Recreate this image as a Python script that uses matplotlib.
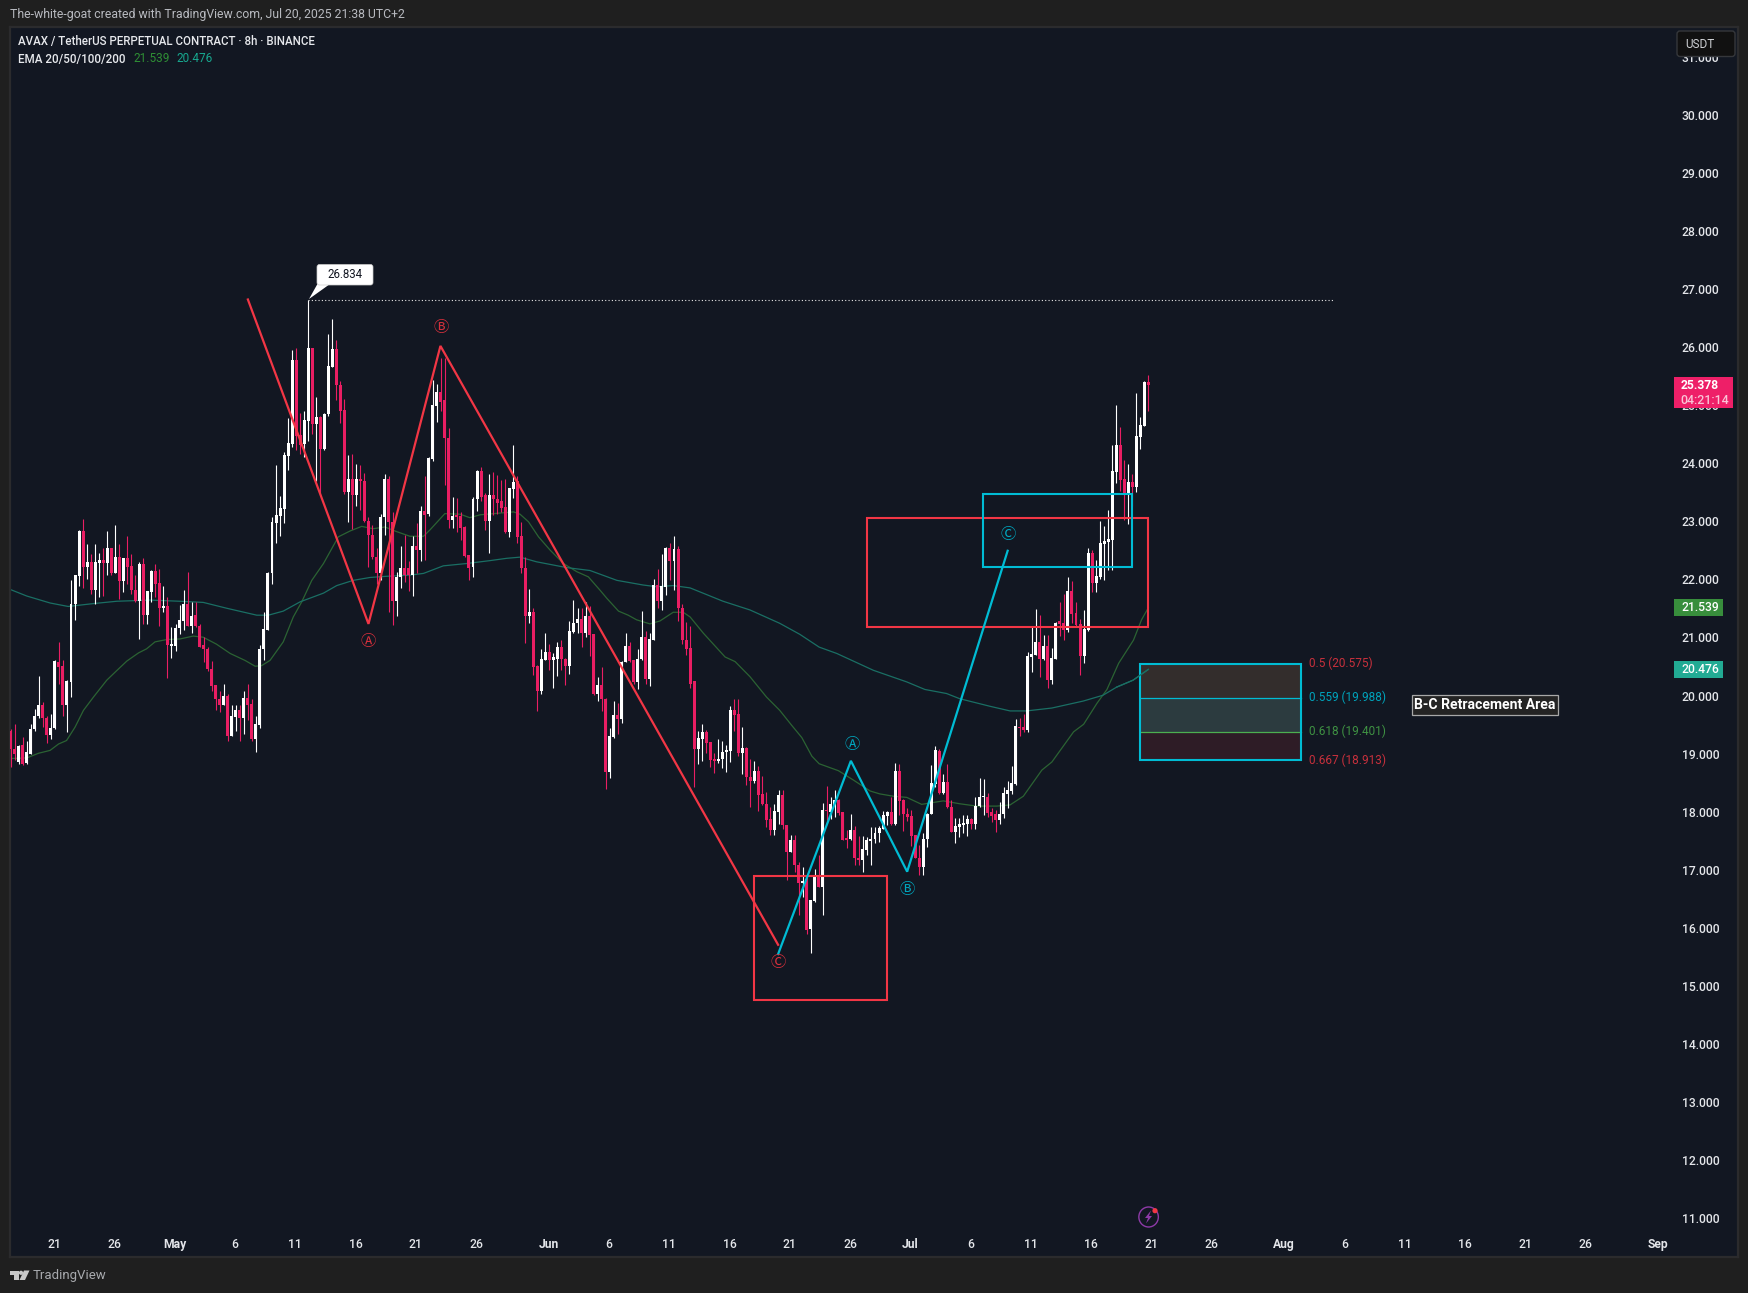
import matplotlib
matplotlib.use("Agg")
import matplotlib.pyplot as plt
from matplotlib.patches import Rectangle, FancyBboxPatch, Polygon, Ellipse, Circle
from matplotlib.transforms import Affine2D

FONT = ['Roboto', 'DejaVu Sans']
plt.rcParams['font.family'] = FONT
CIRC = ['Noto Sans CJK SC', 'DejaVu Sans']

highs = [19.45,19.54,19.17,19.31,19.25,19.53,19.80,20.36,19.91,19.68,
 19.71,20.63,20.94,20.63,20.29,22.01,22.10,22.88,23.06,22.63,
 22.46,22.63,22.49,22.56,22.86,22.56,22.97,22.64,22.40,22.77,
 22.46,22.10,22.33,22.40,21.83,22.18,22.29,22.21,21.92,21.72,
 21.21,21.26,21.58,21.85,22.15,21.64,21.64,21.25,21.03,20.86,
 20.62,20.20,20.11,20.22,20.05,19.86,19.86,19.86,20.11,20.23,
 19.97,19.68,20.89,21.46,22.15,23.11,23.99,23.46,24.22,24.80,
 25.98,26.02,24.90,24.93,26.834,26.02,25.17,24.84,24.90,26.25,
 26.52,26.15,25.45,25.13,24.17,24.18,24.02,23.99,23.86,23.11,
 22.96,22.56,23.16,23.85,23.81,23.19,22.16,22.60,22.80,22.34,
 22.77,22.99,23.29,23.81,24.13,25.46,25.39,25.84,25.84,24.63,
 23.44,23.43,23.18,22.95,22.45,23.45,23.92,23.97,23.52,23.85,
 23.88,23.82,23.74,23.76,23.61,24.34,23.81,23.02,22.42,21.86,
 21.54,20.55,20.82,21.11,20.92,20.75,20.95,20.98,20.68,21.31,
 21.68,21.54,21.54,21.64,21.57,21.08,20.35,20.52,19.99,19.47,
 19.93,19.90,20.62,21.11,20.95,20.64,20.82,21.48,21.14,21.11,
 22.03,22.20,22.46,22.59,22.65,22.77,22.60,21.61,21.29,21.23,
 20.28,19.41,19.53,19.43,19.22,19.03,19.27,19.24,19.17,19.84,
 19.97,19.97,19.49,19.13,18.94,18.89,18.81,18.64,18.37,18.11,
 18.16,18.39,18.40,17.79,17.62,17.62,17.16,17.07,16.93,16.51,
 17.04,17.27,18.18,18.46,18.28,18.40,18.25,18.02,17.70,17.99,
 17.77,17.60,17.60,17.59,17.76,17.76,17.77,18.04,18.04,18.28,
 18.87,18.85,18.25,18.08,18.05,17.62,17.45,17.65,18.00,18.83,
 19.16,19.10,18.68,18.85,18.22,17.91,17.92,17.96,17.97,17.91,
 18.28,18.60,18.58,18.34,18.08,18.05,18.19,18.45,18.55,18.81,
 19.62,19.63,19.70,20.78,21.21,21.51,21.41,21.07,21.07,20.84,
 21.30,21.64,21.77,22.06,22.00,21.63,21.34,21.50,22.56,22.53,
 22.36,23.03,22.95,23.23,24.34,25.03,24.66,24.08,24.01,23.85,
 25.24,24.83,25.45,25.55]
lows = [18.79,18.91,18.85,18.82,18.85,19.01,19.42,19.63,19.49,19.21,
 19.28,19.45,20.23,19.68,19.40,20.00,21.32,21.92,21.87,22.04,
 21.77,21.61,21.72,21.74,22.10,22.10,22.13,21.69,21.81,21.95,
 21.78,21.64,21.00,21.26,21.25,21.64,21.72,21.23,21.46,20.33,
 20.68,20.79,21.09,21.15,21.23,21.10,21.21,20.86,20.60,20.45,
 20.11,19.77,19.74,19.86,19.25,19.32,19.42,19.24,19.37,19.60,
 19.24,19.05,19.47,20.63,21.15,21.95,22.65,22.77,22.99,23.91,
 24.31,24.26,24.19,24.14,24.42,24.54,23.73,23.48,24.25,24.84,
 25.69,25.11,24.72,23.50,23.02,22.90,23.30,23.22,23.02,22.24,
 22.38,21.95,22.01,22.79,21.47,21.24,21.39,21.88,21.99,21.83,
 21.74,22.13,22.35,22.36,23.12,24.07,24.74,24.92,23.65,22.91,
 22.91,22.85,22.70,22.42,22.01,22.07,23.21,23.37,22.87,22.49,
 23.14,23.16,23.19,22.83,22.76,23.43,22.66,22.14,20.93,21.27,
 20.38,19.76,20.05,20.64,20.47,20.16,20.36,20.46,20.20,20.39,
 21.11,21.11,20.87,21.04,20.70,20.03,19.93,19.76,18.42,18.61,
 19.29,19.37,19.55,20.61,20.61,20.23,20.13,20.64,20.22,20.19,
 20.98,21.53,21.50,21.76,22.01,21.84,21.31,20.92,20.72,20.15,
 18.45,18.84,18.89,19.03,18.79,18.69,18.86,18.77,18.71,18.88,
 19.42,18.98,18.67,18.48,18.11,18.52,18.04,18.14,17.76,17.63,
 17.62,17.81,17.73,16.84,17.33,16.99,16.24,16.55,15.92,15.59,
 16.47,16.72,16.24,17.88,17.89,17.93,17.97,17.53,17.39,17.54,
 17.10,17.10,16.99,17.27,17.10,17.48,17.50,17.73,17.79,17.79,
 17.79,17.96,17.69,17.87,17.43,17.22,16.94,16.93,17.42,17.99,
 18.45,18.33,18.33,18.08,17.67,17.49,17.59,17.65,17.60,17.73,
 17.73,18.11,17.96,17.94,17.85,17.67,17.82,17.91,18.08,18.32,
 18.48,19.33,19.40,19.40,20.43,20.72,20.34,20.64,20.16,20.22,
 20.65,21.05,20.99,21.12,21.27,21.21,20.38,20.59,21.14,21.81,
 21.81,22.03,22.02,22.19,22.18,23.68,23.55,23.05,22.98,23.29,
 23.54,24.28,24.67,24.93]
opens = [19.42,19.10,18.88,19.17,18.86,19.02,19.44,19.67,19.87,19.63,
 19.34,19.46,20.61,20.53,19.87,20.26,21.60,22.08,22.86,22.24,
 22.32,21.85,22.31,22.36,22.31,22.56,22.14,22.42,22.00,22.39,
 22.25,21.85,21.65,22.29,21.41,21.81,22.17,21.97,21.53,21.56,
 20.88,20.88,21.19,21.31,21.61,21.23,21.41,21.23,20.89,20.83,
 20.49,20.20,19.97,19.86,20.01,19.32,19.65,19.77,19.63,19.99,
 19.88,19.27,19.51,20.83,21.15,22.14,22.99,23.12,23.24,24.15,
 24.36,25.80,24.51,24.36,24.76,26.02,24.70,24.83,24.27,24.87,
 25.69,26.00,25.38,24.94,23.53,23.76,23.48,23.76,23.73,23.03,
 22.80,22.42,22.14,23.10,23.75,23.02,21.66,22.06,22.23,22.22,
 22.10,22.60,22.53,23.20,23.15,24.10,25.01,25.26,25.11,24.46,
 23.05,23.12,23.12,22.93,22.45,22.24,23.42,23.90,23.48,23.04,
 23.48,23.42,23.37,23.27,22.85,23.58,23.72,22.77,22.23,21.39,
 21.46,20.53,20.10,20.64,20.77,20.64,20.66,20.87,20.66,20.54,
 21.12,21.27,21.34,21.10,21.39,21.08,20.06,20.20,19.96,18.71,
 19.31,19.69,19.62,20.61,20.88,20.64,20.25,20.65,21.03,20.31,
 20.99,21.93,21.65,21.90,22.56,22.34,22.55,21.54,20.99,20.84,
 20.27,19.10,19.27,19.39,19.22,18.94,18.89,18.93,19.05,19.07,
 19.77,19.70,19.03,19.12,18.63,18.55,18.72,18.33,18.15,17.89,
 17.70,18.02,18.31,17.79,17.33,17.53,17.11,16.80,16.83,16.00,
 16.48,16.90,16.73,18.05,18.02,18.14,18.22,18.01,17.56,17.55,
 17.70,17.23,17.19,17.37,17.52,17.55,17.65,17.73,17.95,18.01,
 17.81,18.72,18.22,17.99,17.95,17.62,17.23,17.07,17.55,17.99,
 18.50,19.07,18.34,18.53,18.10,17.67,17.76,17.80,17.81,17.89,
 17.81,18.12,18.27,18.27,18.01,17.99,17.88,17.98,18.33,18.38,
 18.50,19.49,19.49,19.43,20.69,20.72,20.94,20.65,20.88,20.29,
 20.65,21.31,21.27,21.15,21.82,21.44,21.26,20.71,21.15,22.49,
 21.97,22.07,22.63,22.67,22.70,23.88,24.34,23.76,23.50,23.70,
 23.62,24.48,24.67,25.42]
closes = [19.10,19.01,19.15,18.85,19.05,19.45,19.68,19.87,19.63,19.34,
 19.47,20.62,20.52,19.87,20.27,21.61,22.10,22.86,22.24,22.32,
 21.85,22.32,22.36,22.31,22.56,22.14,22.42,22.00,22.39,22.24,
 21.85,21.65,22.29,21.41,21.83,22.17,21.95,21.53,21.56,20.89,
 20.89,21.19,21.32,21.61,21.23,21.39,21.22,20.87,20.82,20.48,
 20.19,19.97,19.86,20.01,19.32,19.67,19.77,19.63,19.99,19.87,
 19.27,19.53,20.83,21.18,22.14,23.01,23.13,23.26,24.17,24.37,
 25.80,24.49,24.35,24.77,26.02,24.70,24.83,24.27,24.88,25.70,
 26.00,25.37,24.92,23.53,23.76,23.48,23.76,23.72,23.03,22.80,
 22.42,22.14,23.11,23.75,23.02,21.66,22.07,22.23,22.10,22.10,
 22.60,22.53,23.20,23.14,24.12,25.03,25.26,25.09,24.46,23.05,
 23.12,23.11,22.91,22.43,22.23,23.42,23.90,23.44,23.04,23.48,
 23.41,23.34,23.26,22.84,23.60,23.70,22.76,22.23,21.40,21.46,
 20.52,20.10,20.65,20.77,20.64,20.69,20.87,20.66,20.54,21.13,
 21.28,21.35,21.10,21.39,21.07,20.05,20.20,19.96,18.71,19.33,
 19.69,19.62,20.61,20.88,20.62,20.25,20.66,21.03,20.31,21.00,
 21.93,21.66,21.91,22.57,22.34,22.55,21.54,20.98,20.83,20.23,
 19.10,19.29,19.39,19.20,18.92,18.89,18.94,19.06,19.08,19.77,
 19.69,19.03,19.12,18.62,18.55,18.72,18.31,18.15,17.88,17.70,
 18.03,18.31,17.80,17.33,17.53,17.10,16.80,16.83,15.99,16.50,
 16.90,16.72,18.05,18.03,18.15,18.22,18.00,17.54,17.54,17.70,
 17.23,17.19,17.38,17.53,17.56,17.65,17.74,17.96,18.01,17.81,
 18.72,18.21,17.98,17.93,17.60,17.23,17.07,17.56,17.99,18.52,
 19.08,18.34,18.53,18.10,17.67,17.77,17.81,17.82,17.89,17.81,
 18.13,18.28,18.28,18.00,17.95,17.88,17.99,18.34,18.39,18.51,
 19.50,19.46,19.43,20.70,20.74,20.94,20.65,20.88,20.29,20.67,
 21.28,21.26,21.15,21.82,21.43,21.24,20.71,21.17,22.49,21.97,
 22.08,22.65,22.69,22.72,23.89,24.34,23.74,23.51,23.70,23.62,
 24.50,24.69,25.42,25.378]

ema100_idx = [0,4,6.9,9.8,11.9,13.9,16,18.1,20.6,23.9,26,28.9,31.8,33.8,35.9,38.8,42.1,45.4,47.9,51.2,
 54.6,58.3,60.8,62.4,64.5,67.8,70.3,72.4,74.9,77.8,81.5,84.4,87.3,90.2,93.1,96,99.3,102.7,104.3,108,
 111.8,114.2,116.8,125.1,126.7,128.8,131.3,134.2,137.5,140.8,143.7,146.6,148.3,151.2,153.6,155.7,159,161.5,164.8,167.3,
 169,172.3,177.7,180.2,183.9,188,191.3,194.3,196.8,199.3,201.1,205.9,209.6,213.8,216.2,219.6,222.9,226.6,232,236.1,
 240.3,245.3,248.6,251.9,256.5,259,264.4,266.9,270.2,272.7,275.6,279.3,281.3,283]
ema100_val = [18.94,18.95,19.03,19.08,19.19,19.25,19.48,19.77,20.00,20.29,20.43,20.62,20.76,20.83,20.95,20.99,21.00,21.05,21.03,20.91,
 20.75,20.63,20.53,20.54,20.63,20.95,21.38,21.64,22.01,22.30,22.76,22.86,22.94,22.90,22.93,22.85,22.77,22.77,22.88,23.16,
 23.15,23.09,23.14,23.19,23.15,23.02,22.76,22.53,22.30,22.16,22.07,21.84,21.70,21.48,21.41,21.33,21.26,21.31,21.46,21.46,
 21.38,21.10,20.69,20.61,20.35,20.00,19.77,19.51,19.30,18.98,18.85,18.73,18.57,18.38,18.33,18.29,18.27,18.15,18.21,18.16,
 18.12,18.12,18.14,18.29,18.74,18.88,19.40,19.53,19.89,20.13,20.58,20.98,21.33,21.539]
ema200_idx = [0,4,9.8,14.3,20.6,26.4,34.7,42.1,47.9,53.7,61.2,64.1,67.8,72,77.8,81.1,85.2,89.4,93.5,99.3,
 102.7,107.6,113.4,119.2,123.4,126.7,130.8,138.3,144.1,150.8,157.3,160.7,164.8,169,177.2,183.9,191.3,196.3,201.1,205.5,
 214.6,222.9,227.4,232.8,236.1,243.6,248.6,252.7,259,266.8,271.7,275.1,279.2,283]
ema200_val = [21.85,21.74,21.62,21.56,21.61,21.65,21.67,21.65,21.63,21.53,21.41,21.41,21.48,21.64,21.79,21.92,22.01,22.06,22.08,22.10,
 22.13,22.26,22.30,22.35,22.39,22.41,22.33,22.23,22.18,22.01,21.93,21.90,21.92,21.88,21.65,21.50,21.27,21.08,20.86,20.75,
 20.46,20.26,20.13,20.06,19.97,19.84,19.76,19.76,19.81,19.93,20.03,20.17,20.29,20.476]

red_wave_idx = [59,89,106.9,190.9]
red_wave_val = [26.85,21.26,26.05,15.73]
blue_wave_idx = [190.9,209,223,248]
blue_wave_val = [15.57,18.90,16.99,22.52]
red_wave_labels = ['Ⓐ','Ⓑ','Ⓒ']
red_label_idx = [89,107,191]
red_label_val = [20.96,26.36,15.43]
blue_wave_labels = ['Ⓐ','Ⓑ','Ⓒ']
blue_label_idx = [209.2,223,248.2]
blue_label_val = [19.18,16.69,22.80]

fib_levels = [20.575,19.988,19.401,18.913]
fib_names = ['0.5 (20.575)','0.559 (19.988)','0.618 (19.401)','0.667 (18.913)']

price_ticks = list(range(11,32))
date_labels = ['21','26','May','6','11','16','21','26','Jun','6','11','16','21','26','Jul','6','11','16','21','26','Aug','6','11','16','21','26','Sep']
date_days = [0,5,10,15,20,25,30,35,41,46,51,56,61,66,71,76,81,86,91,96,102,107,112,117,122,127,133]

W, H = 1749, 1293
BG, PANEL, BORDER = '#1f1f1f', '#121722', '#2b2b2d'
PINK, RED, CYAN = '#e91e63', '#f23645', '#00bcd4'
AXTXT = '#e4e6ea'

px = Affine2D().scale(1, -1).translate(0, H)
fig = plt.figure(figsize=(W/100, H/100), dpi=100, facecolor=BG)
L, R, T_, B = 10, 1738, 27, 1257
ax = fig.add_axes([L/W, 1-B/H, (R-L)/W, (B-T_)/H], facecolor=PANEL)
PX_PER_BAR, X0 = 4.02, 10.7
PX_PER_UNIT, Y30 = 58.03, 116.7
ax.set_xlim((L-X0)/PX_PER_BAR, (R-X0)/PX_PER_BAR)
ax.set_ylim(30-(B-Y30)/PX_PER_UNIT, 30+(Y30-T_)/PX_PER_UNIT)
for s in ax.spines.values():
    s.set_color(BORDER); s.set_linewidth(1.6)

ax.yaxis.tick_right()
ax.set_yticks(price_ticks)
ax.set_yticklabels([f'{v}.000' for v in price_ticks], va='center', fontweight='medium')
ax.tick_params(axis='y', length=0, pad=-40.6, labelsize=8.7, labelcolor=AXTXT)
ax.set_xticks([10.8+3*d for d in date_days])
ax.set_xticklabels(date_labels, fontweight='medium')
ax.tick_params(axis='x', length=0, pad=-13.5, labelsize=8.7, labelcolor=AXTXT)
for lab, txt in zip(ax.get_xticklabels(), date_labels):
    if not txt.isdigit():
        lab.set_fontweight('bold')

# EMAs
ax.plot(ema100_idx, ema100_val, color='#2b6333', lw=0.9, zorder=2)
ax.plot(ema200_idx, ema200_val, color='#1a6f64', lw=0.9, zorder=2)

# candles
for i, (o, h, l, c) in enumerate(zip(opens, highs, lows, closes)):
    col = '#ffffff' if c >= o else PINK
    ax.vlines(i, l, h, color=col, lw=0.8, zorder=3)
    ax.add_patch(Rectangle((i-0.37, min(o, c)), 0.74, max(abs(c-o), 0.03), fc=col, ec='none', zorder=3, antialiased=False))

# boxes
def box(i0, i1, p0, p1, col):
    ax.add_patch(Rectangle((i0, p0), i1-i0, p1-p0, fc='none', ec=col, lw=1.5, zorder=4))
box(184.9, 218, 14.77, 16.92, RED)
box(213, 283, 21.21, 23.08, RED)
box(241.8, 279, 22.24, 23.50, CYAN)

# waves
ax.plot(red_wave_idx, red_wave_val, color=RED, lw=1.6, zorder=5, solid_joinstyle='miter')
ax.plot(blue_wave_idx, blue_wave_val, color=CYAN, lw=1.6, zorder=5, solid_joinstyle='miter')
for s, x, y in zip(red_wave_labels, red_label_idx, red_label_val):
    ax.text(x, y, s, color='#d8303c', ha='center', va='center', fontsize=11, family=CIRC, zorder=6)
for s, x, y in zip(blue_wave_labels, blue_label_idx, blue_label_val):
    ax.text(x, y, s, color='#00a8c0', ha='center', va='center', fontsize=11, family=CIRC, zorder=6)

# high marker
ax.plot([74, 328.9], [26.834, 26.834], color='#e8e8e8', lw=0.8, ls=(0, (1, 2)), zorder=3)
fig.add_artist(Polygon([(318, 283), (309, 299), (330, 284)], transform=px, fc='white', ec='none', zorder=6))
fig.add_artist(FancyBboxPatch((319, 266.5), 52, 16.5, boxstyle='round,pad=2,rounding_size=2.5', transform=px, fc='white', ec='#cccccc', lw=0.5, zorder=6))
fig.add_artist(plt.Text(345, 274.5, '26.834', transform=px, color='#131722', fontsize=8.3, ha='center', va='center', zorder=7))

# fib block
fills = ['#332d2c', '#2c3b3f', '#2e1c26']
for k in range(3):
    ax.add_patch(Rectangle((281, fib_levels[k+1]), 40, fib_levels[k]-fib_levels[k+1], fc=fills[k], ec='none', zorder=1.5))
ax.plot([281, 321], [fib_levels[2]]*2, color='#4caf50', lw=0.9, zorder=3)
ax.plot([281, 321], [fib_levels[1]]*2, color=CYAN, lw=0.9, zorder=3)
ax.add_patch(Rectangle((281, fib_levels[3]), 40, fib_levels[0]-fib_levels[3], fc='none', ec=CYAN, lw=1.5, zorder=3))
ax.plot(ema200_idx[-3:], ema200_val[-3:], color='#1a6f64', lw=0.9, zorder=3.5)
lab_cols = ['#c8303c', '#00a3bb', '#3f9243', '#c8303c']
for y, name, col in zip(fib_levels, fib_names, lab_cols):
    ax.text(323, y, name, color=col, fontsize=8.5, ha='left', va='center', zorder=6)
fig.add_artist(plt.Text(1485, 705, 'B-C Retracement Area', transform=px, color='white', fontsize=10.1, fontweight='bold',
    ha='center', va='center', zorder=7, bbox=dict(boxstyle='square,pad=0.2', fc='#242424', ec='#a8a8a8', lw=0.9)))

# price tags
def tag(price, x1, h, col):
    ax.add_patch(Rectangle(((1674-X0)/PX_PER_BAR, price-h/2/PX_PER_UNIT), (x1-1674)/PX_PER_BAR, h/PX_PER_UNIT, fc=col, ec='none', zorder=7))
tag(21.539, 1723, 17, '#388e3c')
tag(20.476, 1723, 17, '#22ab94')
ax.add_patch(Rectangle(((1674-X0)/PX_PER_BAR, 30-(407.7-Y30)/PX_PER_UNIT), 59/PX_PER_BAR, 31/PX_PER_UNIT, fc='#ee1f68', ec='none', zorder=7))
ax.text((1700-X0)/PX_PER_BAR, 21.539, '21.539', color='white', fontsize=8.7, fontweight='medium', ha='center', va='center', zorder=8)
ax.text((1700-X0)/PX_PER_BAR, 20.476, '20.476', color='white', fontsize=8.7, fontweight='medium', ha='center', va='center', zorder=8)
fig.add_artist(plt.Text(1700, 385.5, '25.378', transform=px, color='white', fontsize=8.7, fontweight='bold', ha='center', va='center', zorder=8))
fig.add_artist(plt.Text(1705, 400, '04:21:14', transform=px, color='#f9c3d6', fontsize=8.9, fontweight='medium', ha='center', va='center', zorder=8))

# header / legend
def T(x, y, s, col, size, **kw):
    fig.add_artist(plt.Text(x, y, s, transform=px, color=col, fontsize=size, va='center', zorder=8, **kw))
T(10, 14.7, 'The-white-goat created with TradingView.com, Jul 20, 2025 21:38 UTC+2', '#b8bac0', 8.8)
T(18, 41.7, 'AVAX / TetherUS PERPETUAL CONTRACT · 8h · BINANCE', '#e6e8ec', 8.3, fontweight='medium')
T(18, 59, 'EMA 20/50/100/200', '#e6e8ec', 8.4, fontweight='medium')
T(133, 59, '21.539', '#2f8f35', 8.5)
T(176, 59, '20.476', '#17a88f', 8.5)

# USDT box
fig.add_artist(FancyBboxPatch((1679, 33), 54, 21.5, boxstyle='round,pad=2,rounding_size=3', transform=px, fc='#111111', ec='#35373b', lw=1, zorder=6))
T(1685, 44.5, 'USDT', '#cfd1d5', 8.5)

# alert icon
fig.add_artist(Ellipse((1148.6, 1217), 19.5, 20, transform=px, fc='none', ec='#8e3aa8', lw=1, zorder=6))
fig.add_artist(Polygon([(1151, 1210.5), (1145, 1218), (1148, 1218), (1146, 1223.5), (1152, 1216), (1149, 1216)], transform=px, fc='#8e3aa8', ec='none', zorder=6))
fig.add_artist(Circle((1155, 1210.7), 2.6, transform=px, fc=RED, ec='none', zorder=7))

# logo
fig.add_artist(Polygon([(10, 1270.5), (18.5, 1270.5), (18.5, 1280), (14, 1280), (14, 1275), (10, 1275)], transform=px, fc='#c8c8c8', ec='none', zorder=6))
fig.add_artist(Circle((21, 1272.8), 2.1, transform=px, fc='#c8c8c8', ec='none', zorder=6))
fig.add_artist(Polygon([(24, 1270.5), (29.5, 1270.5), (25, 1280), (19.5, 1280)], transform=px, fc='#c8c8c8', ec='none', zorder=6))
T(33, 1275, 'TradingView', '#a8aaae', 9.5)

fig.savefig('out.png', dpi=100, facecolor=BG)
